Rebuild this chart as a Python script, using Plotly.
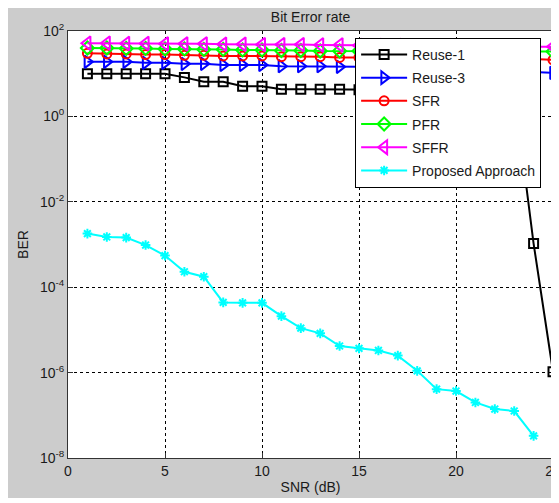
import plotly.graph_objects as go

snr = list(range(1, 26))
snr_prop = list(range(1, 25))

reuse1 = [10, 10, 10, 10, 10, 8.2, 6.5, 6.5, 5.1, 5.1, 4.3, 4.3, 4.3, 4.3,
          4.2, 4.2, 4.2, 4.1, 4.1, 4.1, 4.0, 4.0, 4.0, 1.05e-3, 1.05e-6]
reuse3 = [19, 19, 19, 18, 18, 17, 17, 16, 16, 16, 15, 15, 15, 14.5, 14.5,
          14, 14, 14, 13, 13, 13, 12, 12, 11, 10.5]
sfr = [30, 29, 29, 28, 28, 27, 27, 26, 26, 26, 25, 25, 25, 24, 24, 24, 23,
       23, 23, 23, 22, 22, 22, 22, 21]
pfr = [40, 40, 39, 39, 38, 38, 37, 37, 36, 36, 35, 35, 34, 34, 34, 34, 33,
       33, 33, 33, 33, 33, 33, 33, 33]
sffr = [52, 52, 51, 51, 50, 50, 50, 49, 49, 48, 48, 48, 47, 47, 46, 46, 46,
        45, 45, 45, 44, 44, 44, 43, 43]
proposed = [1.8e-3, 1.5e-3, 1.45e-3, 9.7e-4, 5.5e-4, 2.3e-4, 1.76e-4, 4.4e-5,
            4.3e-5, 4.3e-5, 2.1e-5, 1.1e-5, 8.3e-6, 4.2e-6, 3.7e-6, 3.3e-6,
            2.5e-6, 1.1e-6, 4.1e-7, 3.7e-7, 2.0e-7, 1.4e-7, 1.26e-7, 3.3e-8]

x_ticks = [0, 5, 10, 15, 20, 25]
y_ticks = [1e-8, 1e-6, 1e-4, 1e-2, 1e0, 1e2]
y_ticktext = ["10<sup>-8</sup>", "10<sup>-6</sup>", "10<sup>-4</sup>",
              "10<sup>-2</sup>", "10<sup>0</sup>", "10<sup>2</sup>"]

series = [
    ("Reuse-1", snr, reuse1, "#000000", "square-open", 9),
    ("Reuse-3", snr, reuse3, "#0000ff", "triangle-right-open", 11),
    ("SFR", snr, sfr, "#ff0000", "circle-open", 9),
    ("PFR", snr, pfr, "#00ff00", "diamond-open", 10),
    ("SFFR", snr, sffr, "#ff00ff", "triangle-left-open", 12),
    ("Proposed Approach", snr_prop, proposed, "#00ffff", "asterisk-open", 8),
]

fig = go.Figure()
for i, (name, xs, ys, col, sym, sz) in enumerate(series):
    fig.add_trace(go.Scatter(
        x=xs, y=ys, name=name, mode="lines+markers", legendgroup=f"g{i}",
        line=dict(color=col, width=2),
        marker=dict(symbol=sym, size=sz, color=col, line=dict(color=col, width=2)),
        cliponaxis=False,
    ))

axis_common = dict(
    showline=True, linecolor="#333333", linewidth=1, mirror=True,
    ticks="inside", ticklen=5, tickcolor="#333333",
    showgrid=True, gridcolor="#000000", gridwidth=1, griddash="3px,3px",
    zeroline=False, tickfont=dict(size=14, color="#1a1a1a"),
    automargin=False, ticklabeloverflow="allow",
)

# page body has an 8px margin, so the figure is laid out in its own coordinates
W, H, L, R, T, B = 551, 495, 60, 6, 23, 45

fig.update_layout(
    width=W, height=H,
    margin=dict(l=L, r=R, t=T, b=B),
    paper_bgcolor="#cccccc", plot_bgcolor="#ffffff",
    font=dict(family="Liberation Sans, Arial, sans-serif", size=14, color="#1a1a1a"),
    title=dict(text="Bit Error rate", x=0.5, xref="paper", xanchor="center",
               y=1 - 9 / H, yref="container", yanchor="middle",
               font=dict(size=14, color="#1a1a1a")),
    xaxis=dict(range=[0, 25], tickvals=x_ticks,
               title=dict(text="SNR (dB)", standoff=4, font=dict(size=14)),
               **axis_common),
    yaxis=dict(type="log", range=[-8, 2], tickvals=y_ticks, ticktext=y_ticktext,
               title=dict(text="BER", standoff=8, font=dict(size=14)),
               **axis_common),
    legend=dict(x=0.592, y=0.984, xanchor="left", yanchor="top",
                bgcolor="#ffffff", bordercolor="#000000", borderwidth=1,
                font=dict(size=14, color="#1a1a1a"), tracegroupgap=2,
                itemwidth=46),
    showlegend=True,
)

# white strip at the bottom of the screenshot
pw, ph = W - L - R, H - T - B
def px(x):
    return (x - L) / pw
def py(y):
    return (H - B - y) / ph
fig.add_shape(type="rect", xref="paper", yref="paper",
              x0=px(0), x1=px(W), y0=py(H), y1=py(490),
              fillcolor="#ffffff", line=dict(width=0), layer="above")

fig.write_html("out.html")
